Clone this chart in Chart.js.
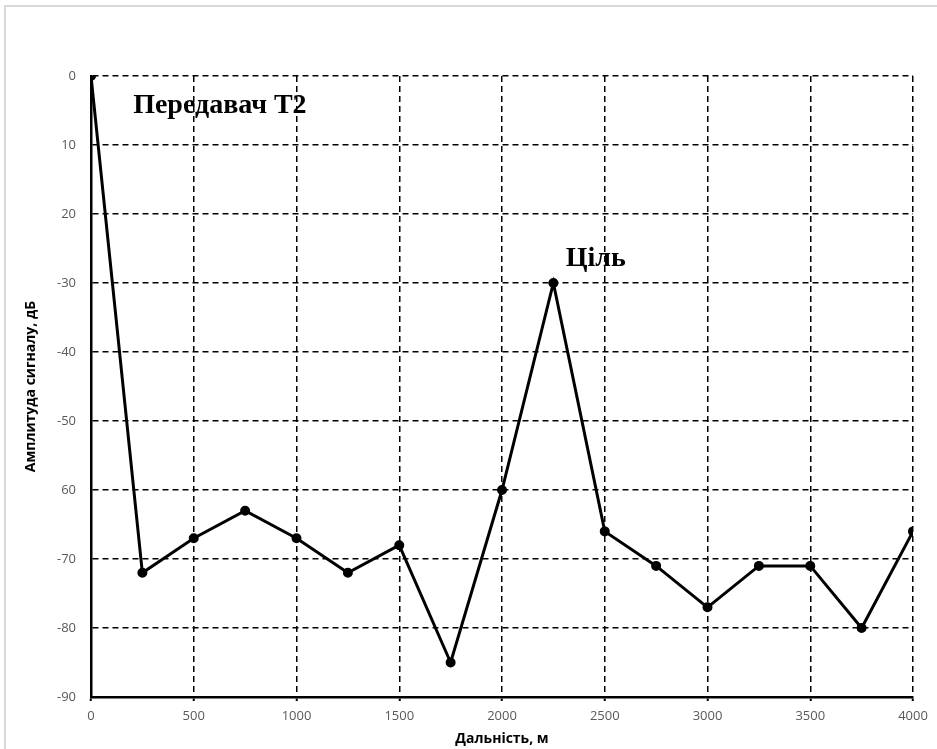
<!DOCTYPE html>
<html>
<head>
<meta charset="utf-8">
<script src="https://cdn.jsdelivr.net/npm/chart.js@4.4.1/dist/chart.umd.min.js"></script>
<style>
  html, body { margin: 0; padding: 0; background: #fff; overflow: hidden; }
  .wrap { position: relative; width: 937px; height: 749px; }
  .frame { position: absolute; left: 4px; top: 5px; width: 960px; height: 780px; border: 2px solid #d9d9d9; box-sizing: border-box; }
  canvas { position: absolute; left: 0; top: 0; }
</style>
</head>
<body>
<div class="wrap">
  <div class="frame"></div>
  <canvas id="lineChart" width="937" height="749"></canvas>
</div>
<script>
// дальність, м
const distances = [0, 250, 500, 750, 1000, 1250, 1500, 1750, 2000, 2250, 2500, 2750, 3000, 3250, 3500, 3750, 4000];
// амплітуда, дБ
const amplitudes = [0, -72, -67, -63, -67, -72, -68, -85, -60, -30, -66, -71, -77, -71, -71, -80, -66];
// підписи осі Y так, як на рисунку
const yTickValues = [0, -10, -20, -30, -40, -50, -60, -70, -80, -90];
const yTickLabels = ['0', '10', '20', '-30', '-40', '-50', '60', '-70', '-80', '-90'];
const notes = ['Передавач Т2', 'Ціль'];

const points = distances.map(function (d, i) { return { x: d, y: amplitudes[i] }; });

// підписи на полі графіка
const notesPlugin = {
  id: 'notes',
  afterDatasetsDraw: function (chart) {
    const ctx = chart.ctx;
    const xs = chart.scales.x, ys = chart.scales.y;
    ctx.save();
    ctx.fillStyle = '#000';
    ctx.font = 'bold 28px "Liberation Serif", "DejaVu Serif", serif';
    ctx.textBaseline = 'alphabetic';
    ctx.textAlign = 'left';
    ctx.fillText(notes[0], xs.getPixelForValue(205), ys.getPixelForValue(-5.4));
    ctx.fillText(notes[1], xs.getPixelForValue(2310), ys.getPixelForValue(-27.5));
    ctx.restore();
  }
};

const tickFont = { family: '"Liberation Sans Narrow", "Open Sans", sans-serif', size: 13 };
const titleFont = { family: '"Open Sans", "DejaVu Sans", sans-serif', size: 14, weight: 'bold' };

let config = {
  type: 'line',
  data: {
    datasets: [{
      data: points,
      borderColor: '#000',
      backgroundColor: '#000',
      borderWidth: 3,
      pointRadius: 3.5,
      pointHoverRadius: 3.5,
      tension: 0
    }]
  },
  options: {
    responsive: false,
    animation: false,
    layout: { padding: { top: 76, right: 24, bottom: 0, left: 0 } },
    plugins: { legend: { display: false }, tooltip: { enabled: false } },
    scales: {
      x: {
        type: 'linear',
        min: 0,
        max: 4000,
        afterFit: function (s) { s.height = 52; },
        ticks: {
          stepSize: 500,
          color: '#595959',
          font: tickFont,
          padding: 7,
          maxRotation: 0,
          callback: function (v) { return String(v); }
        },
        grid: { color: '#000', lineWidth: 1.5, drawTicks: true, tickLength: 4, tickColor: '#000', tickWidth: 2 },
        border: { display: true, color: '#000', width: 2.5, dash: [6, 4] },
        title: { display: true, text: 'Дальність, м', color: '#000', font: titleFont, padding: { top: 0, bottom: 2 } }
      },
      y: {
        min: -90,
        max: 0,
        afterFit: function (s) { s.width = 91; },
        afterBuildTicks: function (s) { s.ticks = yTickValues.map(function (v) { return { value: v }; }); },
        ticks: {
          color: '#595959',
          font: tickFont,
          padding: 15,
          callback: function (v) { return yTickLabels[yTickValues.indexOf(v)]; }
        },
        grid: { color: '#000', lineWidth: 1.5, drawTicks: false },
        border: { display: true, color: '#000', width: 2.5, dash: [6, 4] },
        title: { display: true, text: 'Амплитуда сигналу, дБ', color: '#000', font: titleFont, padding: { top: 23, bottom: 0 } }
      }
    }
  },
  plugins: [notesPlugin]
};

let canvas = document.getElementById('lineChart');
let lineChart = new Chart(canvas, config);
</script>
</body>
</html>
